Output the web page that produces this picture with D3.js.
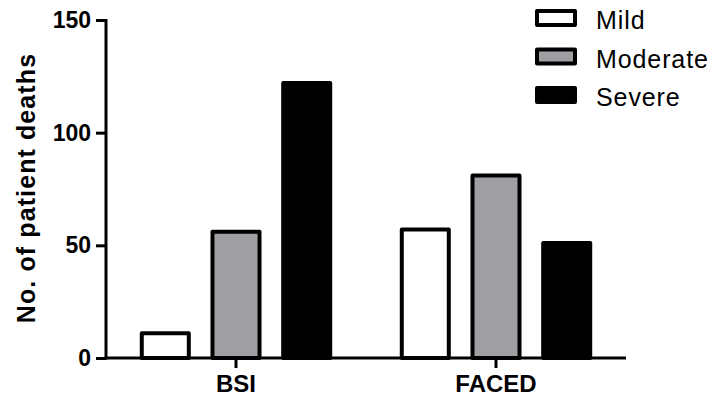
<!DOCTYPE html>
<html>
<head>
<meta charset="utf-8">
<script src="https://cdn.jsdelivr.net/npm/d3@7"></script>
<style>
  html, body { margin: 0; padding: 0; background: #fff; }
  svg { display: block; font-family: Arial, "Liberation Sans", Helvetica, sans-serif; }
</style>
</head>
<body>
<svg id="chart" width="714" height="399"></svg>
<script>
// ---- data ----
const categories = ["BSI", "FACED"];
const seriesNames = ["Mild", "Moderate", "Severe"];
const mild = [11, 57];
const moderate = [56, 81];
const severe = [122, 51];
const yTicks = [0, 50, 100, 150];
const yLabel = "No. of patient deaths";

const seriesValues = { Mild: mild, Moderate: moderate, Severe: severe };
const fills = { Mild: "#ffffff", Moderate: "#a09fa4", Severe: "#000000" };

const svg = d3.select("#chart");
const margin = { left: 106, right: 88, top: 20, bottom: 41 };
const W = 714, H = 399;
const FONT = "Arial, 'Liberation Sans', sans-serif";

const x0 = d3.scaleBand().domain(categories).range([margin.left, W - margin.right]).padding(0);
const x1 = d3.scaleBand().domain(seriesNames).range([0, x0.bandwidth()])
  .paddingInner(0.335).paddingOuter(0.506);
const y = d3.scaleLinear().domain([0, 150]).range([H - margin.bottom, margin.top]);

// bars
const rows = [];
categories.forEach((c, i) => seriesNames.forEach(s => rows.push({ c, s, v: seriesValues[s][i] })));
svg.append("g").selectAll("rect").data(rows).join("rect")
  .attr("x", d => x0(d.c) + x1(d.s))
  .attr("y", d => y(d.v))
  .attr("width", x1.bandwidth())
  .attr("height", d => y(0) - y(d.v))
  .attr("fill", d => fills[d.s])
  .attr("stroke", "#000")
  .attr("stroke-width", 4)
  .attr("stroke-linejoin", "round");

// y axis
const yAxis = svg.append("g").attr("transform", `translate(${margin.left},0)`)
  .call(d3.axisLeft(y).tickValues(yTicks).tickSize(10).tickPadding(5).tickSizeOuter(0));
yAxis.select(".domain").attr("stroke-width", 3).attr("d", `M0,${y(150) - 1}V${y(0) + 1.5}`);
yAxis.selectAll(".tick line").attr("stroke-width", 3);
yAxis.selectAll(".tick text").attr("font-size", 23).attr("font-weight", "bold").attr("fill", "#000")
  .attr("font-family", FONT);

// x axis
const xAxis = svg.append("g").attr("transform", `translate(0,${y(0)})`)
  .call(d3.axisBottom(x0).tickSize(10).tickPadding(7).tickSizeOuter(0));
xAxis.select(".domain").attr("stroke-width", 3).attr("d", `M${margin.left - 1.5},0H${W - margin.right}`);
xAxis.selectAll(".tick line").attr("stroke-width", 3);
xAxis.selectAll(".tick text").attr("font-size", 24).attr("font-weight", "bold").attr("fill", "#000")
  .attr("font-family", FONT);

// y label
svg.append("text")
  .attr("transform", `translate(35,188) rotate(-90)`)
  .attr("text-anchor", "middle")
  .attr("font-size", 25).attr("font-weight", "bold")
  .attr("letter-spacing", "1.1px")
  .attr("font-family", FONT)
  .text(yLabel);

// legend
const legend = svg.append("g").attr("transform", "translate(537,11)");
const lg = legend.selectAll("g").data(seriesNames).join("g")
  .attr("transform", (d, i) => `translate(0,${i * 38.5})`);
lg.append("rect").attr("width", 38).attr("height", 14)
  .attr("fill", d => fills[d]).attr("stroke", "#000").attr("stroke-width", 4)
  .attr("stroke-linejoin", "round");
lg.append("text").attr("x", 59).attr("y", 18)
  .attr("font-size", 25).attr("letter-spacing", "0.9px").attr("fill", "#000")
  .attr("font-family", FONT)
  .text(d => d);
</script>
</body>
</html>
